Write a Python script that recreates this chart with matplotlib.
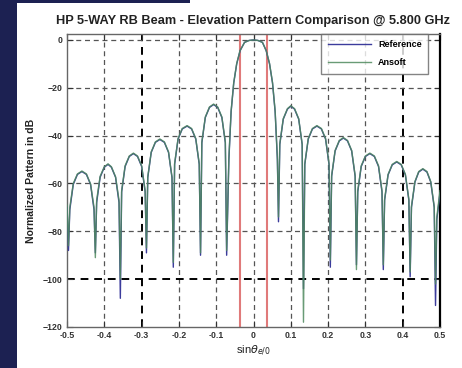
import matplotlib
matplotlib.use("Agg")
import matplotlib.pyplot as plt
from matplotlib.patches import Rectangle

title = "HP 5-WAY RB Beam - Elevation Pattern Comparison @ 5.800 GHz"
series_names = ["Reference", "Ansoft"]
x_ticks = [-0.5, -0.4, -0.3, -0.2, -0.1, 0.0, 0.1, 0.2, 0.3, 0.4, 0.5]
x_tick_labels = ["-0.5", "-0.4", "-0.3", "-0.2", "-0.1", "0", "0.1", "0.2", "0.3", "0.4", "0.5"]
y_ticks = [0, -20, -40, -60, -80, -100, -120]
beam_edges = [-0.037, 0.035]

u = [
    -0.500,
    -0.496,
    -0.4925, -0.4832, -0.472, -0.460, -0.448, -0.4368, -0.4275,
    -0.424,
    -0.4205, -0.4112, -0.400, -0.390, -0.381, -0.3698, -0.3605,
    -0.357,
    -0.3535, -0.3442, -0.333, -0.322, -0.311, -0.2998, -0.2905,
    -0.287,
    -0.2835, -0.2742, -0.263, -0.251, -0.239, -0.2278, -0.2185,
    -0.215,
    -0.2115, -0.2022, -0.191, -0.178, -0.166, -0.1548, -0.1455,
    -0.142,
    -0.1385, -0.1292, -0.118, -0.107, -0.096, -0.0848, -0.0755,
    -0.072,
    -0.066, -0.060, -0.053, -0.045, -0.036, -0.024, -0.012, 0.000,
    0.012, 0.024, 0.034, 0.043, 0.051, 0.058, 0.064,
    0.067,
    0.0705, 0.0798, 0.091, 0.100, 0.110, 0.1212, 0.1305,
    0.134,
    0.1375, 0.1468, 0.158, 0.170, 0.182, 0.1932, 0.2025,
    0.206,
    0.2095, 0.2188, 0.230, 0.241, 0.252, 0.2632, 0.2725,
    0.276,
    0.2795, 0.2888, 0.300, 0.312, 0.324, 0.3352, 0.3445,
    0.348,
    0.3515, 0.3608, 0.372, 0.384, 0.396, 0.4072, 0.4165,
    0.420,
    0.4235, 0.4328, 0.443, 0.454, 0.465, 0.4752, 0.4845,
    0.488,
    0.4915, 0.500,
]

reference_db = [
    -70,
    -88,
    -71, -60.4, -56.2, -55, -56.2, -60.4, -71,
    -89,
    -68, -57.4, -53.2, -52, -53.2, -57.4, -68,
    -108,
    -63.5, -52.9, -48.7, -47.5, -48.7, -52.9, -63.5,
    -89,
    -57.6, -47, -42.8, -41.6, -42.8, -47, -57.6,
    -95,
    -52, -41.4, -37.2, -36, -37.2, -41.4, -52,
    -90,
    -43, -32.4, -28.2, -27, -28.2, -32.4, -43,
    -90,
    -50, -30, -18, -10, -4.5, -1.0, -0.2, 0,
    -0.2, -1.0, -4.5, -10, -18, -30, -50,
    -76,
    -43.7, -33.1, -28.9, -27.7, -28.9, -33.1, -43.7,
    -104,
    -52, -41.4, -37.2, -36, -37.2, -41.4, -52,
    -95,
    -57, -46.4, -42.2, -41, -42.2, -46.4, -57,
    -94,
    -63.5, -52.9, -48.7, -47.5, -48.7, -52.9, -63.5,
    -96,
    -67, -56.4, -52.2, -51, -52.2, -56.4, -67,
    -99,
    -70, -59.4, -55.2, -54, -55.2, -59.4, -70,
    -111,
    -75, -64,
]

ansoft_db = [
    -69,
    -86,
    -70, -60.0, -56.0, -54.8, -56.0, -60.2, -70,
    -91,
    -67, -57.0, -53.0, -51.8, -53.0, -57.2, -67,
    -100,
    -63, -52.6, -48.5, -47.3, -48.5, -52.6, -63,
    -87,
    -57.2, -46.8, -42.6, -41.4, -42.6, -46.8, -57.2,
    -93,
    -51.6, -41.2, -37.0, -35.8, -37.0, -41.2, -51.6,
    -89,
    -42.6, -32.2, -28.0, -26.8, -28.0, -32.2, -42.6,
    -88,
    -49, -29.6, -17.8, -9.8, -4.4, -1.0, -0.2, 0,
    -0.2, -1.0, -4.4, -9.8, -17.8, -29.6, -49,
    -74,
    -43.3, -32.9, -28.7, -27.5, -28.7, -32.9, -43.5,
    -118,
    -51.8, -41.2, -37.0, -35.8, -37.0, -41.2, -51.6,
    -92,
    -56.6, -46.2, -42.0, -40.8, -42.0, -46.2, -56.6,
    -96,
    -63, -52.6, -48.5, -47.3, -48.5, -52.6, -63,
    -94,
    -66.5, -56.2, -52.0, -50.8, -52.0, -56.2, -66.5,
    -97,
    -69.5, -59.2, -55.0, -53.8, -55.0, -59.2, -69.5,
    -102,
    -74, -63,
]

plt.rcParams['font.family'] = ['Liberation Sans', 'DejaVu Sans']

fig = plt.figure(figsize=(4.62, 3.68), dpi=100, facecolor='white')
# dark slide background strips
fig.patches.append(Rectangle((0, 0), 17 / 462, 1, transform=fig.transFigure,
                             facecolor='#1c2152', edgecolor='none', zorder=0))
fig.patches.append(Rectangle((0, 1 - 3 / 368), 190 / 462, 3 / 368, transform=fig.transFigure,
                             facecolor='#1c2152', edgecolor='none', zorder=0))

ax = fig.add_axes([67 / 462, 1 - 327 / 368, (440 - 67) / 462, (327 - 34) / 368])
ax.set_xlim(-0.5, 0.5)
ax.set_ylim(-120, 2.5)

# grid
for xv in x_ticks[1:-1]:
    strong = xv in (-0.3, 0.4)
    ax.axvline(xv, color='black' if strong else '#555555', lw=1.4 if strong else 0.9,
               ls=(0, (4, 3)), zorder=1)
for yv in y_ticks[:-1]:
    strong = yv == -100
    ax.axhline(yv, color='black' if strong else '#555555', lw=1.4 if strong else 0.9,
               ls=(0, (4, 3)), zorder=1)

for b in beam_edges:
    ax.axvline(b, color='#e07a7a', lw=1.5, zorder=2)

ax.plot(u, reference_db, color='#3c3c9c', lw=1.0, label=series_names[0], zorder=3)
ax.plot(u, ansoft_db, color='#4f8a5e', lw=1.0, alpha=0.85, label=series_names[1], zorder=4)

ax.set_xticks(x_ticks)
ax.set_xticklabels(x_tick_labels)
ax.set_yticks(y_ticks)
ax.tick_params(direction='in', length=4, width=0.8, labelsize=6.3, colors='#333333',
               pad=3, top=True, right=True)
for lab in ax.get_xticklabels() + ax.get_yticklabels():
    lab.set_fontweight('bold')

for side in ['left', 'bottom', 'top']:
    ax.spines[side].set_color('#666666')
    ax.spines[side].set_linewidth(1.0)
ax.spines['right'].set_color('black')
ax.spines['right'].set_linewidth(1.6)

ax.set_title(title, fontsize=9.2, fontweight='bold', color='#222222', pad=7)
ax.set_ylabel("Normalized Pattern in dB", fontsize=7.5, fontweight='bold', color='#222222', labelpad=5)
ax.set_xlabel(r"sin$\theta_{e/0}$", fontsize=8, color='#222222', labelpad=3)

leg = ax.legend(loc='upper right', bbox_to_anchor=(428 / 462, 1 - 34 / 368),
                bbox_transform=fig.transFigure, fontsize=6.5, frameon=True,
                fancybox=False, edgecolor='#666666', handlelength=4.8,
                borderaxespad=0, borderpad=0.7, labelspacing=1.0)
leg.get_frame().set_linewidth(1.0)
for t in leg.get_texts():
    t.set_fontweight('bold')

fig.savefig("out.png", dpi=100, facecolor=fig.get_facecolor())
